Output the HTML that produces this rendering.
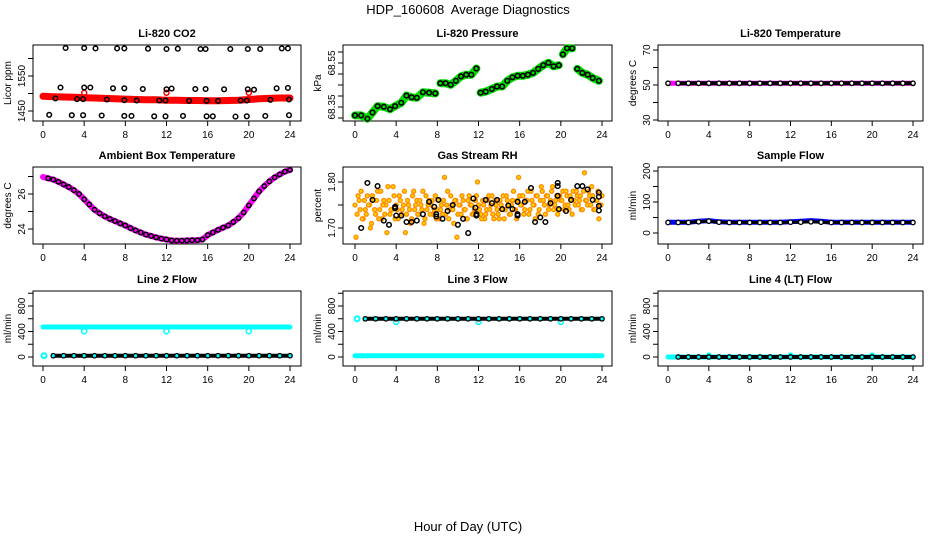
<!DOCTYPE html>
<html><head><meta charset="utf-8"><style>
html,body{margin:0;padding:0;background:#fff;}
svg{display:block;font-family:"Liberation Sans",Arial,sans-serif;}
</style></head><body>
<svg id="chart" width="936" height="540" viewBox="0 0 936 540" xmlns="http://www.w3.org/2000/svg">
<text x="468" y="14" text-anchor="middle" font-size="13" style="white-space:pre">HDP_160608  Average Diagnostics</text>
<text x="468" y="531" text-anchor="middle" font-size="13">Hour of Day (UTC)</text>
</svg>
<script>
// ---------- data ----------
const hourTicks = [0,4,8,12,16,20,24];
const hours = [0,1,2,3,4,5,6,7,8,9,10,11,12,13,14,15,16,17,18,19,20,21,22,23,24];
// CO2
const co2Red = [1492,1491,1490,1489,1488,1487,1486,1485,1484,1483,1482,1482,1481,1481,1480,1480,1479,1479,1480,1481,1483,1485,1486,1487,1487];
const co2TopH = [2.2,4,5.1,7.2,7.9,10.2,12,13.1,15.3,15.8,18.2,19.9,21.1,23.2,23.8];
const co2TopV = [1630,1630,1629,1629,1629,1628,1627,1628,1627,1627,1627,1627,1627,1629,1629];
const co2UpH = [1.7,4,4.6,6.8,7.9,9.7,12,12.5,14.8,15.8,17.6,19.9,20.5,22.7,23.8];
const co2UpV = [1517,1517,1517,1515,1515,1513,1512,1514,1513,1513,1512,1512,1511,1515,1516];
const co2MidH = [1.2,3.3,3.9,6.2,7.9,9.1,11.3,11.9,14.2,15.9,17,19.2,19.8,22.1,23.9];
const co2MidV = [1486,1484,1484,1483,1481,1480,1480,1480,1479,1479,1479,1480,1480,1482,1483];
const co2LowH = [0.6,2.8,3.9,5.7,7.9,8.6,10.8,11.9,13.6,15.9,16.5,18.7,19.8,21.6,23.9];
const co2LowV = [1439,1438,1438,1437,1436,1436,1435,1435,1436,1435,1435,1434,1435,1436,1438];
const co2SpikeH = [4,12,20];
const co2SpikeV = [1502,1502,1502];
// Pressure
const presH = [0,0.6,1.2,1.7,2.2,2.8,3.4,3.9,4.5,5,5.5,6,6.6,7.2,7.8,8.3,8.8,9.3,9.8,10.3,10.8,11.3,11.8,12.2,12.7,13.3,13.8,14.3,14.8,15.3,15.8,16.3,16.8,17.3,17.8,18.3,18.8,19.3,19.8,20.2,20.6,21.1,21.6,22.1,22.6,23.1,23.7];
const presV = [68.312,68.312,68.297,68.325,68.354,68.351,68.340,68.354,68.369,68.402,68.394,68.392,68.417,68.415,68.412,68.458,68.458,68.451,68.469,68.489,68.497,68.497,68.525,68.415,68.420,68.432,68.443,68.443,68.469,68.485,68.492,68.492,68.497,68.505,68.523,68.540,68.551,68.535,68.540,68.589,68.617,68.617,68.523,68.505,68.497,68.482,68.469];
const presSeg = [1,1,1,1,1,1,1,1,1,1,1,1,1,1,1,2,2,2,2,2,2,2,2,3,3,3,3,3,3,3,3,3,3,3,3,3,3,3,3,4,4,4,5,5,5,5,5];
// Li-820 temperature
const liTempMag = [51,51,51,51,51,51,51,51,51,51,51,51,51,51,51,51,51,51,51,51,51,51,51,51,51];
const liTempBlk = [51,51,51,51,51,51,51,51,51,51,51,51,51,51,51,51,51,51,51,51,51,51,51,51,51];
// Ambient box temperature (half-hour)
const ambH = [0,0.5,1,1.5,2,2.5,3,3.5,4,4.5,5,5.5,6,6.5,7,7.5,8,8.5,9,9.5,10,10.5,11,11.5,12,12.5,13,13.5,14,14.5,15,15.5,16,16.5,17,17.5,18,18.5,19,19.5,20,20.5,21,21.5,22,22.5,23,23.5,24];
const ambV = [26.97,26.9,26.82,26.7,26.55,26.4,26.22,26.0,25.7,25.4,25.1,24.9,24.72,24.58,24.45,24.32,24.2,24.05,23.92,23.8,23.68,23.6,23.52,23.45,23.4,23.35,23.33,23.33,23.35,23.36,23.36,23.4,23.65,23.8,23.95,24.08,24.2,24.4,24.62,24.95,25.35,25.75,26.15,26.45,26.72,26.95,27.12,27.28,27.38];
// Gas stream RH
const rhOrangeA = [1.75,1.73,1.76,1.78,1.72,1.74,1.77,1.75,1.71,1.76,1.73,1.78,1.74,1.72,1.76,1.75,1.79,1.73,1.74,1.77,
1.75,1.72,1.76,1.74,1.78,1.73,1.75,1.71,1.77,1.74,1.76,1.73,1.75,1.78,1.72,1.74,1.76,1.75,1.73,1.77,
1.74,1.72,1.75,1.76,1.73,1.78,1.74,1.75,1.71,1.76,1.73,1.75,1.77,1.74,1.72,1.76,1.75,1.73,1.74,1.77,
1.75,1.73,1.76,1.72,1.74,1.77,1.75,1.73,1.76,1.74,1.72,1.75,1.77,1.74,1.76,1.73,1.75,1.78,1.74,1.76,
1.77,1.75,1.73,1.76,1.78,1.74,1.76,1.75,1.77,1.73,1.76,1.78,1.75,1.77,1.74,1.76,1.79,1.75,1.77,1.74,
1.76,1.78,1.75,1.77,1.74,1.76,1.78,1.75,1.77,1.76,1.74,1.78,1.76,1.75,1.77,1.79,1.74,1.76,1.78,1.75,1.77];
const rhOrangeB = [1.68,1.77,1.74,1.72,1.76,1.73,1.75,1.70,1.77,1.74,1.76,1.72,1.78,1.75,1.73,1.69,1.76,1.74,1.79,1.72,
1.74,1.77,1.73,1.75,1.69,1.76,1.74,1.72,1.78,1.75,1.73,1.76,1.74,1.71,1.77,1.75,1.73,1.76,1.74,1.72,
1.76,1.74,1.73,1.81,1.75,1.72,1.77,1.74,1.76,1.68,1.75,1.73,1.76,1.74,1.72,1.77,1.75,1.73,1.76,1.80,
1.74,1.72,1.75,1.73,1.76,1.74,1.77,1.72,1.75,1.73,1.76,1.74,1.72,1.77,1.75,1.73,1.76,1.74,1.72,1.81,
1.75,1.77,1.74,1.76,1.73,1.78,1.75,1.72,1.77,1.74,1.79,1.76,1.73,1.77,1.75,1.78,1.74,1.76,1.73,1.77,
1.76,1.74,1.78,1.75,1.77,1.73,1.76,1.78,1.75,1.77,1.74,1.82,1.76,1.78,1.75,1.77,1.74,1.76,1.72,1.75];
const rhBlkH = [0.6,1.2,1.7,2.2,2.8,3.3,3.9,3.9,4.0,4.5,5.0,5.5,6.0,6.6,7.2,7.7,7.9,7.9,8.1,8.5,9.0,9.5,10.0,10.5,11.0,11.5,11.7,11.8,11.8,12.7,13.3,13.8,14.3,14.9,15.3,15.8,15.8,15.8,16.5,17.1,17.5,18.0,18.5,19.0,19.7,19.7,19.7,19.8,20.5,21.0,21.6,22.1,22.6,23.1,23.7,23.7,23.7,23.7];
const rhBlkV = [1.700,1.798,1.761,1.791,1.716,1.707,1.746,1.743,1.727,1.727,1.713,1.713,1.716,1.730,1.757,1.746,1.730,1.725,1.761,1.720,1.737,1.750,1.707,1.720,1.689,1.764,1.744,1.730,1.727,1.761,1.754,1.761,1.741,1.749,1.741,1.757,1.730,1.727,1.757,1.787,1.713,1.723,1.713,1.754,1.798,1.791,1.770,1.741,1.737,1.761,1.791,1.791,1.784,1.761,1.777,1.768,1.748,1.738];
// Sample flow
const sampBlue = [35,35,35,38,40,36,35,35,35,35,35,35,36,38,40,38,35,35,35,35,35,35,35,35,35];
const sampBlk = [34,34,34,36,38,35,34,34,34,34,34,34,35,35,36,35,34,34,34,34,34,34,34,34,34];
// Line 2 flow
const l2Cyan = [20,470,470,470,470,470,470,470,470,470,470,470,470,470,470,470,470,470,470,470,470,470,470,470,470];
const l2Blk = [20,20,20,20,20,20,20,20,20,20,20,20,20,20,20,20,20,20,20,20,20,20,20,20,20];
const l2DipH = [4,12,20];
const l2DipV = [405,405,405];
// Line 3 flow
const l3Cyan = [20,20,20,20,20,20,20,20,20,20,20,20,20,20,20,20,20,20,20,20,20,20,20,20,20];
const l3Blk = [600,600,600,600,600,600,600,600,600,600,600,600,600,600,600,600,600,600,600,600,600,600,600,600,600];
const l3DipH = [4,12,20];
const l3DipV = [550,550,550];
// Line 4 flow
const l4Cyan = [0,0,0,0,0,0,0,0,0,0,0,0,0,0,0,0,0,0,0,0,0,0,0,0,0];
const l4Blk = [0,0,0,0,0,0,0,0,0,0,0,0,0,0,0,0,0,0,0,0,0,0,0,0,0];
const l4BumpH = [4,12,20];
const l4BumpV = [30,30,30];

// ---------- layout ----------
const NS = "http://www.w3.org/2000/svg";
const svg = document.getElementById('chart');
const cols = [{l:33,r:301,x0:43,x24:290},{l:343,r:612,x0:355,x24:602},{l:658,r:923,x0:668,x24:913}];
const rows = [{t:45,b:121},{t:167,b:244},{t:291,b:366}];
function mk(tag, parent){ const e=document.createElementNS(NS,tag); (parent||svg).appendChild(e); return e; }
function xs(p,h){ const c=cols[p.col]; return c.x0 + h*(c.x24-c.x0)/24; }
function ys(p,v){ return p.pa + (v-p.va)*(p.pb-p.pa)/(p.vb-p.va); }

function panel(p){
  const c=cols[p.col], r=rows[p.row];
  const g=mk('g');
  
  
  p.g=g;
  const box=mk('rect',g);
  
  
  box.setAttribute('x',c.l);box.setAttribute('y',r.t);box.setAttribute('width',c.r-c.l);box.setAttribute('height',r.b-r.t);
  box.setAttribute('fill','none');box.setAttribute('stroke','#000');box.setAttribute('stroke-width','1');
  const t=mk('text',g);
  
  
  t.setAttribute('x',(c.l+c.r)/2);t.setAttribute('y',r.t-8);t.setAttribute('text-anchor','middle');
  t.setAttribute('font-size','11');t.setAttribute('font-weight','bold');t.textContent=p.title;
  const yl=mk('text',g);
  
  
  const ym=(r.t+r.b)/2;
  yl.setAttribute('transform','translate('+(c.l-22)+','+ym+') rotate(-90)');
  yl.setAttribute('text-anchor','middle');yl.setAttribute('font-size','10');yl.textContent=p.ylab;
  hourTicks.forEach(h=>{
    const x=xs(p,h);
    const tk=mk('line',g);
    
    
    tk.setAttribute('x1',x);tk.setAttribute('x2',x);tk.setAttribute('y1',r.b);tk.setAttribute('y2',r.b+5);tk.setAttribute('stroke','#000');
    const tl=mk('text',g);
    
    
    tl.setAttribute('x',x);tl.setAttribute('y',r.b+17);tl.setAttribute('text-anchor','middle');tl.setAttribute('font-size','10');tl.textContent=h;
  });
  p.ticks.forEach((v,i)=>{
    const y=ys(p,v);
    const tk=mk('line',g);
    
    
    tk.setAttribute('x1',c.l-5);tk.setAttribute('x2',c.l);tk.setAttribute('y1',y);tk.setAttribute('y2',y);tk.setAttribute('stroke','#000');
    if(p.labels[i]!==''){
      const tl=mk('text',g);
      
      
      tl.setAttribute('transform','translate('+(c.l-8)+','+y+') rotate(-90)');
      tl.setAttribute('text-anchor','middle');tl.setAttribute('font-size','10');tl.textContent=p.labels[i];
    }
  });
  return p;
}
function line(p,hs,vs,color,w,name,seg){
  let d='';
  hs.forEach((h,i)=>{ const nb = i===0 || (seg && seg[i]!==seg[i-1]); d+=(nb?'M':'L')+xs(p,h).toFixed(1)+' '+ys(p,vs[i]).toFixed(1)+' '; });
  const e=mk('path',p.g);
  
  
  e.setAttribute('d',d);e.setAttribute('fill','none');e.setAttribute('stroke',color);e.setAttribute('stroke-width',w);
  e.setAttribute('stroke-linecap','round');e.setAttribute('stroke-linejoin','round');
}
function pts(p,hs,vs,color,rad,sw,name,fill){
  hs.forEach((h,i)=>{
    const e=mk('circle',p.g);
    
    
    e.setAttribute('cx',xs(p,h).toFixed(1));e.setAttribute('cy',ys(p,vs[i]).toFixed(1));e.setAttribute('r',rad);
    e.setAttribute('fill',fill||'none');e.setAttribute('stroke',color);e.setAttribute('stroke-width',sw);
  });
}
const stepH = (n,a,s)=>Array.from({length:n},(_,i)=>a+i*s);

// CO2
const pCO2=panel({name:'co2-panel',title:'Li-820 CO2',ylab:'Licor ppm',col:0,row:0,va:1450,pa:111,vb:1550,pb:76,ticks:[1450,1500,1550,1600],labels:['1450','','1550','']});
line(pCO2,hours,co2Red,'#ff0000',7,'co2-red-series');
pts(pCO2,co2SpikeH,co2SpikeV,'#ff0000',2.5,1.5,'co2-red-point');
pts(pCO2,co2TopH,co2TopV,'#000',2.3,1.5,'co2-black-point');
pts(pCO2,co2UpH,co2UpV,'#000',2.3,1.5,'co2-black-point');
pts(pCO2,co2MidH,co2MidV,'#000',2.3,1.5,'co2-black-point');
pts(pCO2,co2LowH,co2LowV,'#000',2.3,1.5,'co2-black-point');
// Pressure
const pPres=panel({name:'pressure-panel',title:'Li-820 Pressure',ylab:'kPa',col:1,row:0,va:68.35,pa:107,vb:68.55,pb:63,ticks:[68.30,68.35,68.40,68.45,68.50,68.55,68.60],labels:['','68.35','','','','68.55','']});
line(pPres,presH,presV,'#00dd00',8,'pressure-green-series',presSeg);
pts(pPres,presH,presV,'#000',2.3,1.6,'pressure-black-point');
// Li temp
const pLT=panel({name:'li820-temp-panel',title:'Li-820 Temperature',ylab:'degrees C',col:2,row:0,va:30,pa:120,vb:70,pb:50,ticks:[30,40,50,60,70],labels:['30','','50','','70']});
line(pLT,hours,liTempMag,'#ff00ff',5,'li820-temp-magenta-series');
line(pLT,hours.slice(1),liTempBlk.slice(1),'#000',4,'li820-temp-black-series');
pts(pLT,hours,liTempBlk,'#000',2.2,1.4,'li820-temp-black-point','#fff');
// Ambient
const pAmb=panel({name:'ambient-temp-panel',title:'Ambient Box Temperature',ylab:'degrees C',col:0,row:1,va:24,pa:229,vb:26,pb:194,ticks:[24,25,26,27],labels:['24','','26','']});
line(pAmb,ambH,ambV,'#ff00ff',6,'ambient-magenta-series');
pts(pAmb,ambH.slice(1),ambV.slice(1),'#000',2.2,1.5,'ambient-black-point');
// RH
const pRH=panel({name:'rh-panel',title:'Gas Stream RH',ylab:'percent',col:1,row:1,va:1.70,pa:228,vb:1.80,pb:182,ticks:[1.70,1.75,1.80],labels:['1.70','','1.80']});
pts(pRH,stepH(121,0,0.2),rhOrangeA,'#ff8c00',2,1.3,'rh-orange-point','#ffd200');
pts(pRH,stepH(120,0.1,0.2),rhOrangeB,'#ff8c00',2,1.3,'rh-orange-point','#ffd200');
pts(pRH,rhBlkH,rhBlkV,'#000',2.3,1.5,'rh-black-point');
// Sample flow
const pSF=panel({name:'sample-flow-panel',title:'Sample Flow',ylab:'ml/min',col:2,row:1,va:0,pa:233,vb:200,pb:171,ticks:[0,50,100,150,200],labels:['0','','100','','200']});
line(pSF,hours,sampBlue,'#0000ff',5,'sample-flow-blue-series');
line(pSF,hours.slice(1),sampBlk.slice(1),'#000',3,'sample-flow-black-series');
pts(pSF,hours,sampBlk,'#000',2.2,1.3,'sample-flow-black-point','#fff');
// Line 2
const flowTicks=[0,200,400,600,800,1000], flowLabels=['0','','400','','800',''];
const pL2=panel({name:'line2-flow-panel',title:'Line 2 Flow',ylab:'ml/min',col:0,row:2,va:0,pa:357,vb:800,pb:306,ticks:flowTicks,labels:flowLabels});
line(pL2,hours,l2Cyan.map((v,i)=>i===0?470:v),'#00ffff',5,'line2-cyan-series');
pts(pL2,[0.1],[l2Cyan[0]],'#00ffff',2.5,2,'line2-cyan-point');
pts(pL2,l2DipH,l2DipV,'#00ffff',2.5,1.5,'line2-cyan-dip');
line(pL2,hours.slice(1),l2Blk.slice(1),'#000',4,'line2-black-series');
pts(pL2,hours.slice(1),l2Blk.slice(1),'#000',2.2,1.3,'line2-black-point','#0ff');
// Line 3
const pL3=panel({name:'line3-flow-panel',title:'Line 3 Flow',ylab:'ml/min',col:1,row:2,va:0,pa:357,vb:800,pb:306,ticks:flowTicks,labels:flowLabels});
line(pL3,hours,l3Cyan,'#00ffff',5,'line3-cyan-series');
pts(pL3,[0.2],[l3Blk[0]],'#00ffff',2.5,2,'line3-cyan-point');
pts(pL3,l3DipH,l3DipV,'#00ffff',2.5,1.5,'line3-cyan-dip');
line(pL3,hours.slice(1),l3Blk.slice(1),'#000',4,'line3-black-series');
pts(pL3,hours.slice(1),l3Blk.slice(1),'#000',2.2,1.3,'line3-black-point','#0ff');
// Line 4
const pL4=panel({name:'line4-flow-panel',title:'Line 4 (LT) Flow',ylab:'ml/min',col:2,row:2,va:0,pa:357,vb:800,pb:306,ticks:flowTicks,labels:flowLabels});
line(pL4,hours,l4Cyan,'#00ffff',5,'line4-cyan-series');
pts(pL4,l4BumpH,l4BumpV,'#00ffff',2,1.5,'line4-cyan-bump');
line(pL4,hours.slice(1),l4Blk.slice(1),'#000',4,'line4-black-series');
pts(pL4,hours.slice(1),l4Blk.slice(1),'#000',2.2,1.3,'line4-black-point','#0ff');
</script>
</body></html>
